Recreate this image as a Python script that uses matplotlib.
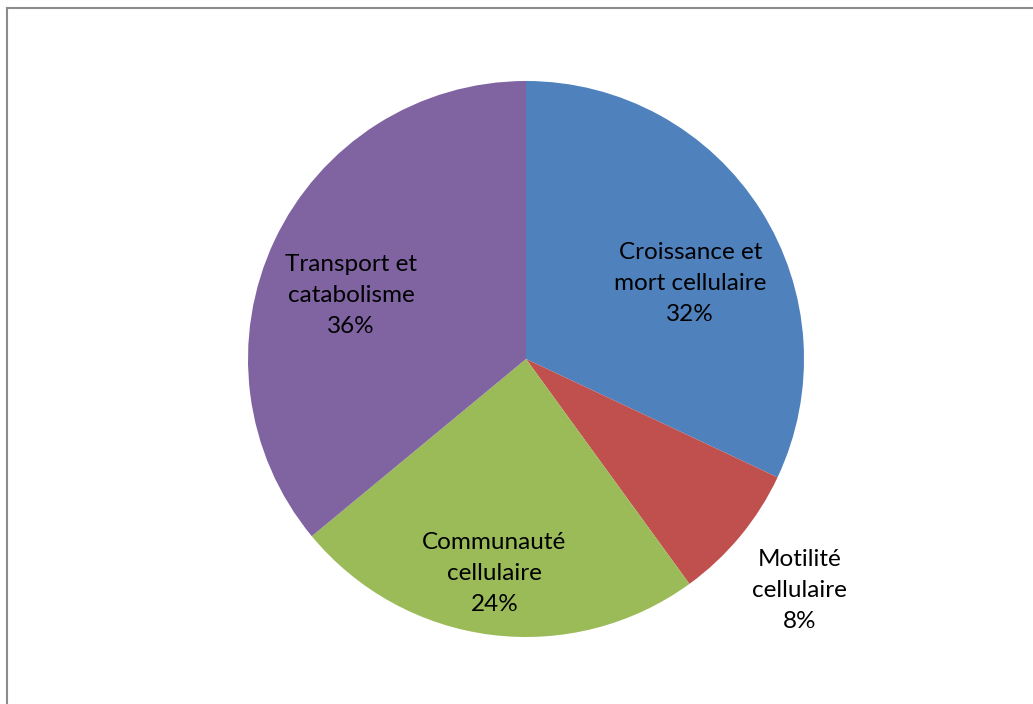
import matplotlib
matplotlib.use("Agg")
import numpy as np
import matplotlib.pyplot as plt
from matplotlib.lines import Line2D

plt.rcParams['font.family'] = ['Lato', 'DejaVu Sans']

categories = ["Croissance et\nmort cellulaire", "Motilité\ncellulaire",
              "Communauté\ncellulaire", "Transport et\ncatabolisme"]
shares = [32, 8, 24, 36]
colors = ["#4F81BD", "#C0504D", "#9BBB59", "#8064A2"]

# label placement: (distance as fraction of radius, angle shift in degrees)
label_pos = [(0.65, -7.8), (1.29, -0.6), (0.78, -1.2), (0.67, 5.2)]

fig = plt.figure(figsize=(10.33, 7.04), dpi=100)
ax = fig.add_axes([248 / 1033, 1 - 637 / 704, 556 / 1033, 556 / 704])

wedges, _ = ax.pie(shares, colors=colors, startangle=90, counterclock=False,
                   radius=1, wedgeprops=dict(linewidth=0))
ax.set_xlim(-1, 1)
ax.set_ylim(-1, 1)
ax.set_aspect('auto')
ax.axis('off')

total = sum(shares)
for w, name, val, (dist, shift) in zip(wedges, categories, shares, label_pos):
    ang = np.deg2rad((w.theta1 + w.theta2) / 2 + shift)
    ax.text(dist * np.cos(ang), dist * np.sin(ang),
            f"{name}\n{round(100 * val / total)}%",
            ha='center', va='center', fontsize=17.5, color='black',
            linespacing=1.6, clip_on=False)

# frame of the chart area (only left and top edges visible)
fig.add_artist(Line2D([6.5 / 1033, 6.5 / 1033], [0, 1 - 8 / 704],
                      transform=fig.transFigure, color='#8c8c8c', lw=1.5))
fig.add_artist(Line2D([6.5 / 1033, 1], [1 - 8 / 704, 1 - 8 / 704],
                      transform=fig.transFigure, color='#8c8c8c', lw=1.5))

fig.savefig("out.png", dpi=100)
